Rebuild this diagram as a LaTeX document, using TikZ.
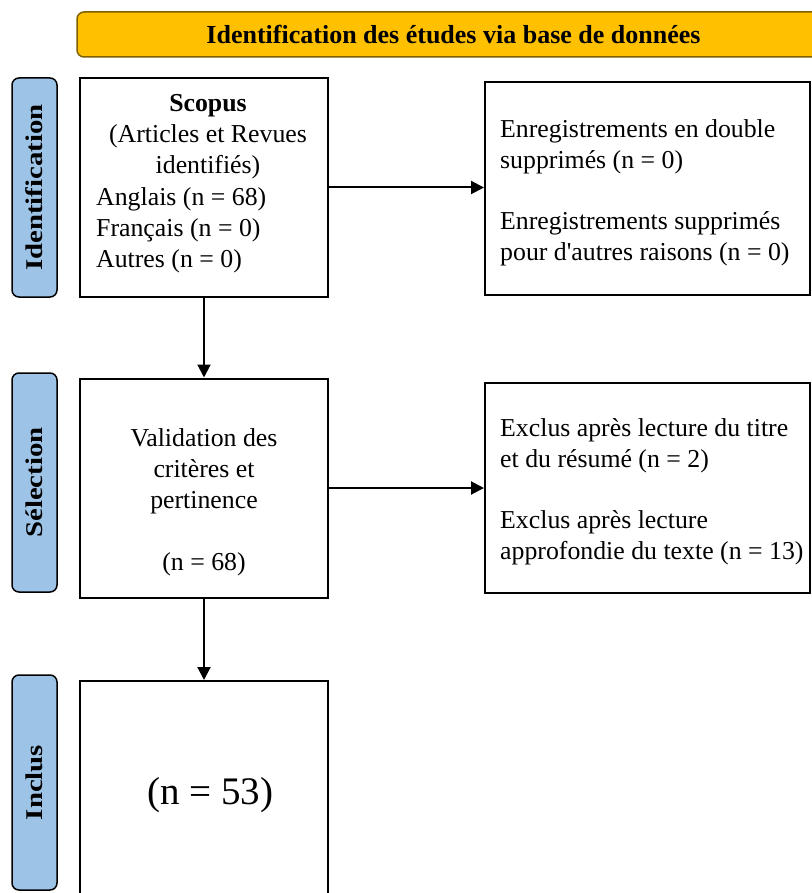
\documentclass[tikz,border=0pt]{standalone}
\usepackage{fontspec}
\setmainfont{Liberation Serif}
\usetikzlibrary{arrows.meta}
\definecolor{hdrfill}{HTML}{FFC000}
\definecolor{hdrline}{HTML}{7F6000}
\definecolor{sidefill}{HTML}{9DC3E6}
\begin{document}
\begin{tikzpicture}[x=1pt,y=-1pt,
  box/.style={draw=black,line width=2pt,minimum width=248pt,minimum height=219pt,inner sep=0pt},
  rbox/.style={draw=black,line width=2pt,minimum width=325pt,inner sep=0pt},
  side/.style={draw=black,line width=1.5pt,fill=sidefill,rounded corners=7pt,minimum width=45pt,inner sep=0pt},
  sidetxt/.style={rotate=90,font=\fontsize{24}{24}\selectfont\bfseries,inner sep=0pt},
  txt/.style={font=\fontsize{25.8}{31}\selectfont,inner sep=0pt},
  arr/.style={line width=2pt,-{Triangle[length=13pt,width=13pt]}}]
\useasboundingbox (0,0) rectangle (811,893);
% header
\node[draw=hdrline,fill=hdrfill,line width=1.5pt,rounded corners=7pt,minimum width=753pt,minimum height=45pt,inner sep=0pt,font=\fontsize{26}{26}\selectfont\bfseries] (hdr) at (453.5,34.5) {Identification des études via base de données};
% side labels
\node[side,minimum height=219pt] (ident) at (34.5,187.5) {};
\node[sidetxt] (identt) at (ident.center) {\scalebox{1.2}[1]{Identification}};
\node[side,minimum height=219pt] (sel) at (34.5,482.5) {};
\node[sidetxt] (selt) at (sel.center) {\scalebox{1.2}[1]{Sélection}};
\node[side,minimum height=215pt] (incl) at (34.5,782.5) {};
\node[sidetxt] (inclt) at (incl.center) {\scalebox{1.2}[1]{Inclus}};
% main boxes
\node[box] (scopus) at (204,187.5) {};
\node[box] (valid) at (204,488) {};
\node[box] (inclus) at (204,790.5) {};
\node[rbox,minimum height=213pt] (dup) at (647.5,188.5) {};
\node[rbox,minimum height=210pt] (excl) at (647.5,488) {};
% texts
\node[txt,align=center] (scopust) at (208,136.5) {\textbf{Scopus}\\(Articles et Revues\\identifiés)};
\node[txt,align=left,anchor=west] (langt) at (96,230.5) {Anglais (n = 68)\\Français (n = 0)\\Autres (n = 0)};
\node[txt,align=center] (validt) at (204,502) {Validation des\\critères et\\pertinence\\[31pt](n = 68)};
\node[txt,font=\fontsize{39}{39}\selectfont] (inclust) at (210,795) {(n = 53)};
\node[txt,align=left,anchor=west] (dupt) at (500,193) {Enregistrements en double\\supprimés (n = 0)\\[30pt]Enregistrements supprimés\\pour d\textquotesingle autres raisons (n = 0)};
\node[txt,align=left,anchor=west] (exclt) at (500,492) {Exclus après lecture du titre\\et du résumé (n = 2)\\[30pt]Exclus après lecture\\approfondie du texte (n = 13)};
% connectors
\draw[arr] (scopus.south) -- (valid.north);
\draw[arr] (valid.south) -- (inclus.north);
\draw[arr] (scopus.east) -- (scopus.east -| dup.west);
\draw[arr] (valid.east) -- (valid.east -| excl.west);
\end{tikzpicture}
\end{document}
